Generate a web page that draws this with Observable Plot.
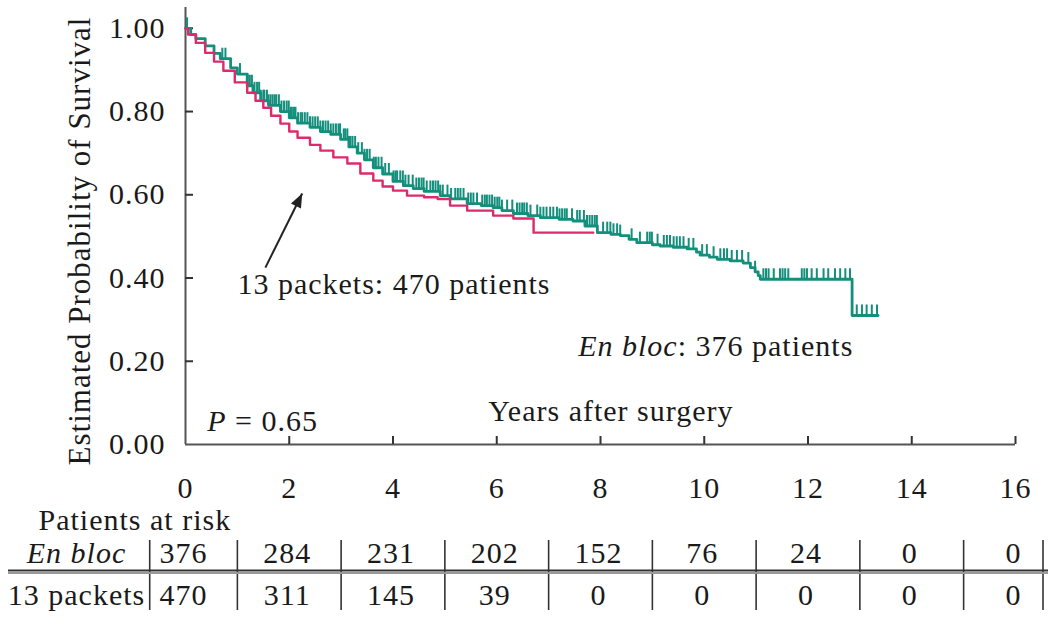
<!DOCTYPE html>
<html><head><meta charset="utf-8">
<script src="https://cdn.jsdelivr.net/npm/d3@7"></script>
<script src="https://cdn.jsdelivr.net/npm/@observablehq/plot@0.6"></script>
<style>
html,body{margin:0;padding:0;background:#fff;}
#chart svg{display:block;}
</style>
</head><body><div id="chart"></div>
<script>
// ---------- data ----------
const xTicks = [0, 2, 4, 6, 8, 10, 12, 14, 16];
const yTicks = [0, 0.2, 0.4, 0.6, 0.8, 1.0];

// Kaplan–Meier steps [years, survival]
const enBlocCurve = [
  [0,1.00],[0.1,0.985],[0.2,0.975],[0.38,0.958],[0.55,0.94],[0.67,0.927],[0.87,0.905],
  [1.0,0.89],[1.19,0.862],[1.3,0.845],[1.45,0.826],[1.6,0.815],[1.83,0.80],[2.0,0.785],
  [2.16,0.772],[2.4,0.762],[2.6,0.752],[2.8,0.745],[2.99,0.733],[3.15,0.715],[3.31,0.70],
  [3.45,0.684],[3.62,0.665],[3.8,0.65],[4.0,0.632],[4.2,0.622],[4.39,0.615],[4.6,0.608],
  [4.91,0.598],[5.1,0.59],[5.43,0.579],[5.7,0.574],[5.93,0.569],[6.1,0.562],[6.32,0.555],
  [6.6,0.55],[6.84,0.545],[7.2,0.541],[7.47,0.537],[7.7,0.525],[7.94,0.509],[8.2,0.505],
  [8.38,0.502],[8.55,0.493],[8.7,0.485],[9.0,0.48],[9.15,0.477],[9.4,0.474],[9.67,0.47],
  [9.85,0.462],[9.92,0.455],[10.1,0.45],[10.25,0.445],[10.5,0.441],[10.75,0.436],
  [10.89,0.425],[10.98,0.415],[11.04,0.406],[11.08,0.397],[12.85,0.31],[13.35,0.31]
];
const packetsCurve = [
  [0,1.0],[0.05,0.985],[0.2,0.965],[0.38,0.941],[0.55,0.92],[0.73,0.898],[0.95,0.87],
  [1.19,0.845],[1.35,0.826],[1.5,0.809],[1.65,0.79],[1.83,0.771],[2.0,0.752],[2.16,0.737],
  [2.4,0.72],[2.6,0.706],[2.85,0.69],[3.12,0.675],[3.37,0.651],[3.62,0.634],[3.8,0.62],
  [4.0,0.61],[4.27,0.598],[4.6,0.594],[4.86,0.59],[5.1,0.574],[5.43,0.562],[5.93,0.55],
  [6.32,0.543],[6.71,0.509],[7.86,0.509]
];
// censoring times (years) on the En bloc curve
const enBlocCensored = [
  0.03,0.71,0.77,1.05,
  1.2,1.24,1.28,1.33,1.38,1.42,1.45,1.5,1.52,1.57,1.6,1.64,1.68,1.72,1.75,1.8,1.85,1.9,1.95,1.99,
  2.03,2.05,2.09,2.12,2.17,2.22,2.25,2.3,2.35,2.4,2.45,2.5,2.55,2.6,2.65,2.7,2.75,2.8,2.85,2.9,2.95,2.98,
  3.05,3.08,3.12,3.15,3.18,3.22,3.27,3.33,3.40,3.45,3.50,3.55,3.63,3.67,3.72,3.78,3.85,3.92,
  4.01,4.05,4.08,4.14,4.19,4.24,4.3,4.38,4.45,4.50,4.55,4.59,4.65,4.72,4.77,4.82,4.87,4.91,4.96,
  5.05,5.12,5.20,5.25,5.30,5.36,5.45,5.5,5.55,5.62,5.72,5.77,5.81,5.86,5.91,5.96,
  6.01,6.05,6.10,6.2,6.3,6.39,6.44,6.49,6.53,6.58,6.65,6.78,6.84,6.90,6.96,
  7.03,7.09,7.16,7.21,7.26,7.31,7.35,7.45,7.55,7.6,7.68,7.74,7.79,7.84,7.89,7.93,
  8.05,8.13,8.19,8.25,8.32,8.38,8.6,8.76,8.90,8.95,8.99,9.1,9.22,9.28,9.34,9.41,9.47,9.53,9.60,9.7,9.79,9.96,
  10.05,10.18,10.31,10.38,10.44,10.53,10.63,10.73,10.85,10.98,11.14,11.19,11.24,11.34,11.46,11.51,11.56,11.62,
  11.88,11.93,11.98,12.07,12.17,12.30,12.39,12.52,12.62,12.72,12.81,
  12.94,13.04,13.13,13.23,13.33
];

// patients at risk
const riskYears = [0, 2, 4, 6, 8, 10, 12, 14, 16];
const riskEnBloc = [376, 284, 231, 202, 152, 76, 24, 0, 0];
const riskPackets = [470, 311, 145, 39, 0, 0, 0, 0, 0];
const rowLabels = ["En bloc", "13 packets"];

// ---------- styling ----------
const teal = "#138f7c";
const pink = "#dc2a6c";
const axisColor = "#555";
const baseStyle = {fontFamily: "'Liberation Serif', 'Times New Roman', serif", fontSize: "30px",
  letterSpacing: "1px", color: "#1a1a1a", background: "#fff", overflow: "visible"};

function survAt(curve, t) {
  let s = curve[0][1];
  for (const [x, y] of curve) { if (x <= t) s = y; else break; }
  return s;
}
const censorSymbol = {draw(ctx, size) { const l = Math.sqrt(size / Math.PI) * 2; ctx.moveTo(0, 0); ctx.lineTo(0, -l); }};
// filled arrow head with its tip at the anchor, pointing up before rotation
const headSymbol = {draw(ctx, size) { const l = Math.sqrt(size / Math.PI) * 2; ctx.moveTo(0, 0); ctx.lineTo(-l * 0.4, l); ctx.lineTo(l * 0.4, l); ctx.closePath(); }};

const arrowAnno = [{x1: 1.54, y1: 0.425, x2: 2.25, y2: 0.603}];

const main = Plot.plot({
  width: 1050, height: 500,
  marginLeft: 185, marginRight: 35, marginTop: 7, marginBottom: 56,
  style: baseStyle,
  x: {domain: [0, 16]},
  y: {domain: [0, 1.05]},
  marks: [
    Plot.axisX(xTicks, {tickSize: 0, tickPadding: 32, label: null, tickFormat: d => String(d)}),
    Plot.axisY(yTicks, {tickSize: 0, tickPadding: 20, label: null, tickFormat: d3.format(".2f")}),
    Plot.ruleX([0], {stroke: axisColor, strokeWidth: 2}),
    Plot.ruleY([0], {stroke: axisColor, strokeWidth: 2}),
    Plot.tickY(yTicks.filter(d => d > 0), {y: d => d, insetRight: 822, stroke: "#333", strokeWidth: 2}),
    Plot.tickX(xTicks.filter(d => d > 0), {x: d => d, insetTop: 429, stroke: "#333", strokeWidth: 2}),
    Plot.line(enBlocCurve, {x: d => d[0], y: d => d[1], curve: "step-after", stroke: teal, strokeWidth: 2.8}),
    Plot.dot(enBlocCensored, {x: d => d, y: d => survAt(enBlocCurve, d), symbol: censorSymbol, r: 5.5,
      stroke: teal, strokeWidth: 2, fill: "none"}),
    Plot.line(packetsCurve, {x: d => d[0], y: d => d[1], curve: "step-after", stroke: pink, strokeWidth: 2.4}),
    Plot.link(arrowAnno, {x1: "x1", y1: "y1", x2: "x2", y2: "y2", stroke: "#222", strokeWidth: 2}),
    Plot.dot(arrowAnno, {x: "x2", y: "y2", symbol: headSymbol, r: 7, rotate: 26.6, fill: "#222", stroke: "none"}),
    Plot.text(["Estimated Probability of Survival"], {text: d => d, frameAnchor: "left", dx: -105, dy: 15,
      rotate: -90, fontSize: 31, textAnchor: "middle", lineAnchor: "middle"}),
    Plot.text(["13 packets: 470 patients"], {text: d => d, x: 1.0, y: 0.385, textAnchor: "start", lineAnchor: "middle"}),
    Plot.text(["En bloc: 376 patients"], {text: d => d, x: 7.57, y: 0.235, textAnchor: "start", lineAnchor: "middle"}),
    Plot.text(["Years after surgery"], {text: d => d, x: 8.2, y: 0.08, textAnchor: "middle", lineAnchor: "middle"}),
    Plot.text(["P = 0.65"], {text: d => d, x: 0.42, y: 0.055, textAnchor: "start", lineAnchor: "middle"})
  ]
});

// italic parts
d3.select(main).selectAll("text").each(function() {
  const t = this.textContent;
  const sel = d3.select(this);
  if (t === "P = 0.65") {
    sel.text(null);
    sel.append("tspan").attr("font-style", "italic").text("P");
    sel.append("tspan").text(" = 0.65");
  } else if (t === "En bloc: 376 patients") {
    sel.text(null);
    sel.append("tspan").attr("font-style", "italic").text("En bloc");
    sel.append("tspan").text(": 376 patients");
  }
});

// ---------- risk table ----------
const riskRows = [];
riskYears.forEach((yr, i) => {
  riskRows.push({year: yr, row: 0, n: riskEnBloc[i]});
  riskRows.push({year: yr, row: 1, n: riskPackets[i]});
});
const separators = [-0.69, ...d3.pairs(riskYears).map(([a, b]) => (a + b) / 2), 16.53];
const labelRows = rowLabels.map((l, i) => ({l, i}));

const table = Plot.plot({
  width: 1050, height: 121,
  marginLeft: 185, marginRight: 35, marginTop: 32, marginBottom: 5,
  style: baseStyle,
  x: {domain: [0, 16], axis: null},
  y: {domain: [0, 2], reverse: true, axis: null},
  marks: [
    Plot.text(["Patients at risk"], {text: d => d, frameAnchor: "top-left", dx: -147, dy: -12,
      textAnchor: "start", lineAnchor: "middle"}),
    Plot.ruleX(separators, {x: d => d, insetTop: 8, insetBottom: 6, stroke: "#333", strokeWidth: 1.6}),
    Plot.ruleY([1], {y: d => d, dy: -4, insetLeft: -177, insetRight: -33, stroke: "#333", strokeWidth: 2}),
    Plot.ruleY([1], {y: d => d, dy: -1.5, insetLeft: -177, insetRight: -33, stroke: "#999", strokeWidth: 2}),
    Plot.text(labelRows.filter(d => d.i === 0), {text: "l", y: d => d.i + 0.5, frameAnchor: "left", dx: -109,
      textAnchor: "middle", lineAnchor: "middle", fontStyle: "italic"}),
    Plot.text(labelRows.filter(d => d.i === 1), {text: "l", y: d => d.i + 0.5, frameAnchor: "left", dx: -109,
      textAnchor: "middle", lineAnchor: "middle"}),
    Plot.text(riskRows, {x: "year", y: d => d.row + 0.5, text: d => String(d.n), dx: -2,
      textAnchor: "middle", lineAnchor: "middle"})
  ]
});

document.getElementById("chart").append(main, table);
</script>
</body></html>
